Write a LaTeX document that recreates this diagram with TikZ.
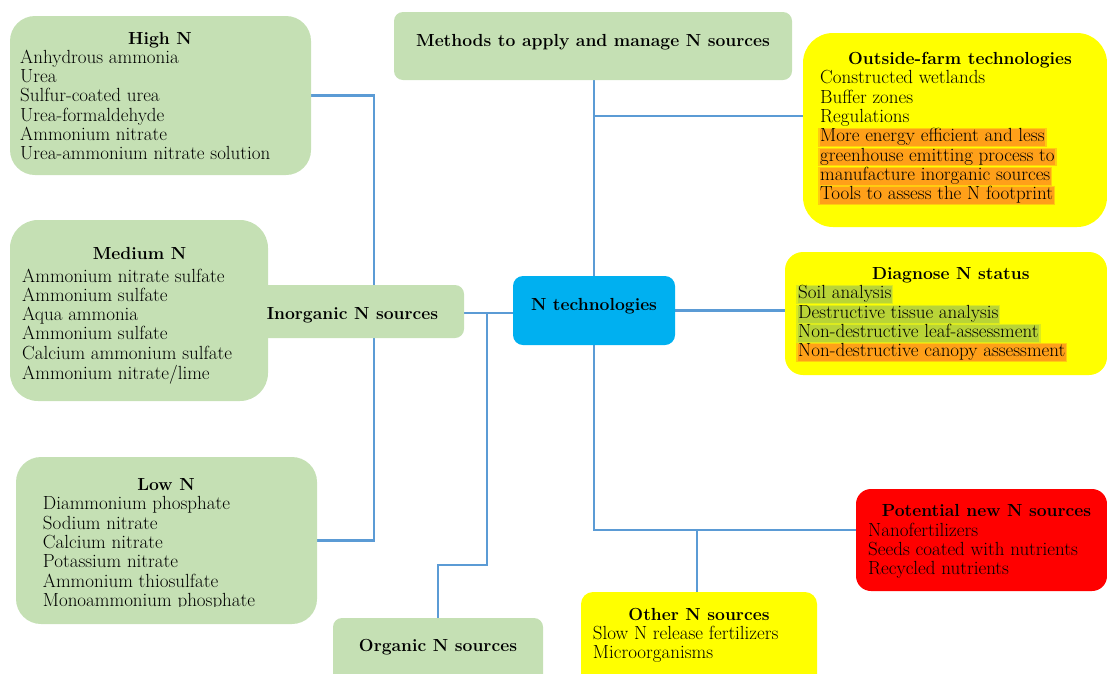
\documentclass[tikz,border=0pt]{standalone}
\usepackage{calc}
\definecolor{gfill}{RGB}{197,224,180}
\definecolor{bfill}{RGB}{0,176,240}
\definecolor{yfill}{RGB}{255,255,0}
\definecolor{rfill}{RGB}{255,0,0}
\definecolor{lblue}{RGB}{91,155,213}
\definecolor{glowO}{RGB}{255,160,25}
\definecolor{glowOe}{RGB}{255,205,15}
\definecolor{glowG}{RGB}{185,212,55}
\definecolor{glowGe}{RGB}{220,235,30}
\newlength\glw
\newcommand\glowbar[3]{\settowidth\glw{#3}\leavevmode\rlap{\kern-2pt\color{#2}\rule[-5.4pt]{\glw+4pt}{18.8pt}}\rlap{\kern-0.5pt\color{#1}\rule[-4.4pt]{\glw+1pt}{16.8pt}}#3}
\newcommand\glowo[1]{\glowbar{glowO}{glowOe}{#1}}
\newcommand\glowg[1]{\glowbar{glowG}{glowGe}{#1}}
\pgfdeclarelayer{bg}
\pgfsetlayers{bg,main}
\begin{document}
\begin{tikzpicture}[x=1pt,y=-1pt,
  box/.style={rectangle,draw=none,inner sep=0pt},
  gbox/.style={box,fill=gfill},
  txt/.style={inner sep=0pt,anchor=base west,font=\fontsize{19}{19.3}\selectfont},
  ttxt/.style={inner sep=0pt,anchor=base,font=\fontsize{17.5}{19.3}\selectfont\bfseries},
  conn/.style={draw=lblue,line width=2.6pt}]
\useasboundingbox (0,0) rectangle (1107,673);
\clip (0,0) rectangle (1107,673);
% boxes
\node[gbox,minimum width=214pt,minimum height=53pt,rounded corners=9pt] (inorg) at (357,311.5) {};
\node[gbox,minimum width=301pt,minimum height=159pt,rounded corners=25pt] (high) at (160.5,95.5) {};
\node[gbox,minimum width=258pt,minimum height=181pt,rounded corners=28pt] (medium) at (139,310.5) {};
\node[gbox,minimum width=301pt,minimum height=167pt,rounded corners=25pt] (low) at (166.5,540.5) {};
\node[gbox,minimum width=210pt,minimum height=72pt,rounded corners=9pt] (organic) at (438,654) {};
\node[gbox,minimum width=398pt,minimum height=68pt,rounded corners=9pt] (methods) at (593,46) {};
\node[box,fill=bfill,minimum width=162pt,minimum height=69pt,rounded corners=10pt] (ntech) at (594,310.5) {};
\node[box,fill=yfill,minimum width=304pt,minimum height=194pt,rounded corners=30pt] (outside) at (955,130) {};
\node[box,fill=yfill,minimum width=322pt,minimum height=123pt,rounded corners=18pt] (diag) at (946,313.5) {};
\node[box,fill=rfill,minimum width=251pt,minimum height=102pt,rounded corners=15pt] (potential) at (981.5,540) {};
\node[box,fill=yfill,minimum width=236pt,minimum height=98pt,rounded corners=12pt] (other) at (699,641) {};
% junction points
\coordinate (vx) at (374,313);
\coordinate (oj) at (487,313);
\coordinate (ok) at (487,565);
\coordinate (bj) at (594,116);
\coordinate (pj) at (594,530);
\coordinate (qj) at (697,530);
\begin{pgfonlayer}{bg}
\draw[conn] (high.east) -| (vx);
\draw[conn] (low.east) -| (vx);
\draw[conn] (inorg.east |- vx) -- (vx -| ntech.west);
\draw[conn] (oj) -- (ok) -| (organic.north);
\draw[conn] (ntech.north) -- (ntech.north |- methods.south);
\draw[conn] (bj) -- (bj -| outside.west);
\draw[conn] (ntech.east) -- (ntech.east -| diag.west);
\draw[conn] (ntech.south) -- (pj) -- (pj -| potential.west);
\draw[conn] (qj) -- (qj |- other.north);
\end{pgfonlayer}
% titles
\node[ttxt] (hight) at (160,44) {High N};
\node[ttxt] (mediumt) at (139.5,259) {Medium N};
\node[ttxt] (lowt) at (166,490.7) {Low N};
\node[ttxt] (outsidet) at (960,64.3) {Outside-farm technologies};
\node[ttxt] (diagt) at (950.8,279.3) {Diagnose N status};
\node[ttxt] (potentialt) at (986.5,516.7) {Potential new N sources};
\node[ttxt] (othert) at (699,620) {Other N sources};
\node[ttxt] (organict) at (438,651.7) {Organic N sources};
\node[ttxt] (inorgt) at (352.5,319.3) {Inorganic N sources};
\node[ttxt] (ntecht) at (594,310.7) {N technologies};
\node[ttxt] (methodst) at (593,46.7) {Methods to apply and manage N sources};
% bodies
\node[txt] (highb) at (20,63.3) {\begin{tabular}[t]{@{}l@{}}
Anhydrous ammonia\\ Urea\\ Sulfur-coated urea\\ Urea-formaldehyde\\ Ammonium nitrate\\ Urea-ammonium nitrate solution\end{tabular}};
\node[txt] (mediumb) at (22,282) {\begin{tabular}[t]{@{}l@{}}
Ammonium nitrate sulfate\\ Ammonium sulfate\\ Aqua ammonia\\ Ammonium sulfate\\ Calcium ammonium sulfate\\ Ammonium nitrate/lime\end{tabular}};
\begin{scope}
\clip (0,0) rectangle (1107,606);
\node[txt] (lowb) at (42.7,509.8) {\begin{tabular}[t]{@{}l@{}}
Diammonium phosphate\\ Sodium nitrate\\ Calcium nitrate\\ Potassium nitrate\\ Ammonium thiosulfate\\ Monoammonium phosphate\end{tabular}};
\end{scope}
\node[txt] (outsideb) at (820,83.8) {\begin{tabular}[t]{@{}l@{}}
Constructed wetlands\\ Buffer zones\\ Regulations\\ \glowo{More energy efficient and less}\\ \glowo{greenhouse emitting process to}\\ \glowo{manufacture inorganic sources}\\ \glowo{Tools to assess the N footprint}\end{tabular}};
\node[txt] (diagb) at (798,298.8) {\begin{tabular}[t]{@{}l@{}}
\glowg{Soil analysis}\\ \glowg{Destructive tissue analysis}\\ \glowg{Non-destructive leaf-assessment}\\ \glowo{Non-destructive canopy assessment}\end{tabular}};
\node[txt] (potentialb) at (868,536) {\begin{tabular}[t]{@{}l@{}}
Nanofertilizers\\ Seeds coated with nutrients\\ Recycled nutrients\end{tabular}};
\node[txt] (otherb) at (592.7,639.3) {\begin{tabular}[t]{@{}l@{}}
Slow N release fertilizers\\ Microorganisms\end{tabular}};
\end{tikzpicture}
\end{document}
